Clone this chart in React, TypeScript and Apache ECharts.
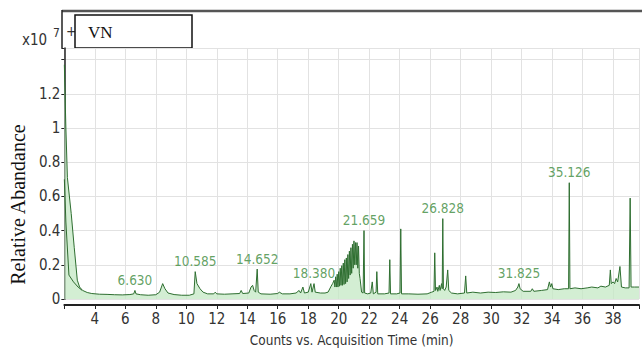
import React, { useEffect, useRef } from "react";
import * as echarts from "echarts";

// Chromatogram trace: [time (min), abundance (x10^7)]
const mainTrace: [number, number][] = [
  [2.0, 1.37], [2.1, 1.0], [2.2, 0.71], [2.45, 0.5], [2.65, 0.3], [2.85, 0.11], [3.0, 0.07],
  [3.2, 0.05], [3.5, 0.038], [3.8, 0.032], [4.3, 0.028], [4.8, 0.027], [5.3, 0.025], [5.8, 0.024],
  [6.3, 0.026], [6.55, 0.03], [6.63, 0.05], [6.7, 0.03], [7.0, 0.025], [7.5, 0.022], [8.0, 0.025],
  [8.25, 0.04], [8.45, 0.09], [8.6, 0.06], [8.8, 0.035], [9.2, 0.026], [9.7, 0.022], [10.2, 0.022],
  [10.5, 0.03], [10.585, 0.16], [10.7, 0.09], [10.9, 0.06], [11.1, 0.04], [11.4, 0.03], [11.8, 0.03],
  [11.9, 0.04], [12.0, 0.03], [12.5, 0.028], [13.0, 0.03], [13.5, 0.032], [13.6, 0.05], [13.7, 0.032],
  [14.1, 0.035], [14.25, 0.07], [14.35, 0.08], [14.45, 0.05], [14.55, 0.04], [14.652, 0.175],
  [14.72, 0.04], [14.9, 0.03], [15.5, 0.028], [16.0, 0.032], [16.1, 0.04], [16.3, 0.03], [16.8, 0.03],
  [17.2, 0.035], [17.4, 0.05], [17.5, 0.035], [17.65, 0.07], [17.75, 0.035], [18.0, 0.04],
  [18.17, 0.09], [18.25, 0.04], [18.38, 0.09], [18.46, 0.04], [18.8, 0.035], [19.1, 0.035],
  [19.3, 0.04], [19.5, 0.075], [19.6, 0.09], [19.7, 0.11], [19.75, 0.07], [19.8, 0.13], [19.85, 0.07],
  [19.9, 0.145], [19.95, 0.07], [20.0, 0.16], [20.05, 0.075], [20.1, 0.18], [20.15, 0.08],
  [20.2, 0.195], [20.25, 0.08], [20.3, 0.21], [20.35, 0.085], [20.4, 0.23], [20.45, 0.09],
  [20.5, 0.24], [20.55, 0.1], [20.6, 0.26], [20.65, 0.12], [20.7, 0.28], [20.75, 0.14], [20.8, 0.3],
  [20.85, 0.15], [20.9, 0.32], [20.95, 0.18], [21.0, 0.34], [21.05, 0.2], [21.1, 0.33], [21.15, 0.2],
  [21.2, 0.33], [21.25, 0.18], [21.3, 0.31], [21.35, 0.15], [21.4, 0.12], [21.5, 0.04], [21.6, 0.035],
  [21.659, 0.4], [21.7, 0.035], [21.9, 0.03], [22.1, 0.035], [22.2, 0.1], [22.27, 0.03], [22.45, 0.04],
  [22.5, 0.16], [22.56, 0.03], [23.0, 0.03], [23.3, 0.035], [23.35, 0.23], [23.4, 0.03], [23.8, 0.03],
  [24.02, 0.035], [24.07, 0.41], [24.12, 0.03], [24.6, 0.03], [25.2, 0.028], [25.8, 0.03],
  [26.1, 0.04], [26.25, 0.045], [26.3, 0.27], [26.35, 0.05], [26.45, 0.07], [26.5, 0.045],
  [26.6, 0.08], [26.65, 0.05], [26.75, 0.09], [26.79, 0.06], [26.828, 0.47], [26.87, 0.06],
  [26.95, 0.05], [27.05, 0.07], [27.15, 0.17], [27.22, 0.05], [27.4, 0.035], [27.8, 0.03],
  [28.25, 0.035], [28.33, 0.135], [28.4, 0.035], [28.8, 0.04], [29.3, 0.035], [29.8, 0.04],
  [30.3, 0.038], [30.8, 0.042], [31.3, 0.04], [31.6, 0.05], [31.75, 0.07], [31.825, 0.09],
  [31.9, 0.06], [32.1, 0.045], [32.6, 0.045], [32.7, 0.06], [32.8, 0.045], [33.3, 0.05],
  [33.7, 0.055], [33.82, 0.1], [33.9, 0.07], [33.98, 0.09], [34.05, 0.06], [34.4, 0.055],
  [34.8, 0.06], [35.08, 0.06], [35.126, 0.68], [35.17, 0.06], [35.5, 0.065], [35.9, 0.06],
  [36.3, 0.065], [36.6, 0.07], [37.0, 0.065], [37.2, 0.075], [37.5, 0.07], [37.75, 0.08],
  [37.82, 0.17], [37.88, 0.09], [38.0, 0.1], [38.1, 0.09], [38.2, 0.12], [38.3, 0.1], [38.45, 0.19],
  [38.55, 0.07], [38.8, 0.065], [39.05, 0.065], [39.12, 0.59], [39.18, 0.07], [39.4, 0.07],
  [39.7, 0.07],
];

// Second (inner) trace visible at the solvent front
const innerTrace: [number, number][] = [
  [2.0, 0.7], [2.1, 0.45], [2.3, 0.14], [2.6, 0.1], [2.9, 0.07], [3.17, 0.05],
];

// Labelled peaks: [retention time, peak height]
const peakLabels: [number, number][] = [
  [6.63, 0.05], [10.585, 0.16], [14.652, 0.175], [18.38, 0.09],
  [21.659, 0.4], [26.828, 0.47], [31.825, 0.09], [35.126, 0.68],
];

const yTickLabels = ["0", "0.2", "0.4", "0.6", "0.8", "1", "1.2"];

const NARROW = "'DejaVu Sans Condensed', 'Liberation Sans Narrow', sans-serif";
const SERIF = "'Liberation Serif', 'Times New Roman', serif";

export default function App() {
  const ref = useRef<HTMLDivElement>(null);
  useEffect(() => {
    if (!ref.current) return;
    const chart = echarts.init(ref.current, null, { renderer: "svg" });
    chart.setOption({
      animation: false,
      backgroundColor: "#ffffff",
      grid: { left: 62, right: 0, top: 48, bottom: 54, containLabel: false },
      xAxis: {
        type: "value",
        min: 2,
        max: 39.7,
        interval: 2,
        offset: 6,
        name: "Counts vs. Acquisition Time (min)",
        nameLocation: "middle",
        nameGap: 28,
        nameTextStyle: { fontFamily: NARROW, fontSize: 13.5, color: "#333" },
        axisLine: { onZero: false, lineStyle: { color: "#222", width: 2 } },
        axisTick: { show: true, length: 4, lineStyle: { color: "#222" } },
        axisLabel: {
          fontFamily: NARROW,
          fontSize: 15,
          color: "#333",
          margin: 6,
          formatter: (v: number) => (v === 2 || Math.abs(v % 2) > 0.001 ? "" : String(v)),
        },
        splitLine: { show: true, lineStyle: { color: "#e2e2e2", width: 1 } },
      },
      yAxis: {
        type: "value",
        min: 0,
        max: 1.468,
        interval: 0.2,
        name: "Relative Abandance",
        nameLocation: "middle",
        nameGap: 36,
        nameTextStyle: { fontFamily: SERIF, fontSize: 20, color: "#111", padding: [0, 62, 0, 0] },
        axisLine: { show: true, lineStyle: { color: "#222", width: 1.5 } },
        axisTick: { show: true, length: 3, lineStyle: { color: "#222" } },
        axisLabel: {
          fontFamily: NARROW,
          fontSize: 15,
          color: "#333",
          margin: 4,
          formatter: (v: number) => {
            const i = Math.round(v / 0.2);
            return i < yTickLabels.length ? yTickLabels[i] : "";
          },
        },
        splitLine: { show: true, lineStyle: { color: "#e2e2e2", width: 1 } },
      },
      series: [
        {
          type: "line",
          data: mainTrace,
          symbol: "none",
          lineStyle: { color: "#2e6e30", width: 1 },
          areaStyle: { color: "#c4e8c4", opacity: 0.75, origin: "start" },
          z: 2,
        },
        {
          type: "line",
          data: innerTrace,
          symbol: "none",
          lineStyle: { color: "#2f6a2f", width: 1 },
          z: 3,
        },
        {
          type: "scatter",
          data: peakLabels,
          symbolSize: 1,
          itemStyle: { color: "rgba(0,0,0,0)" },
          label: {
            show: true,
            position: "top",
            distance: 3,
            fontFamily: NARROW,
            fontSize: 13.5,
            color: "#3b8a3b",
            formatter: (p: any) => p.value[0].toFixed(3),
          },
          z: 4,
        },
      ],
      graphic: [
        { type: "line", shape: { x1: 62, y1: 11, x2: 642, y2: 11 }, style: { stroke: "#555", lineWidth: 2.5 } },
        { type: "line", shape: { x1: 62, y1: 10, x2: 62, y2: 48 }, style: { stroke: "#222", lineWidth: 1.5 } },
        { type: "text", x: 22, y: 40, style: { text: "x10", font: `15px ${NARROW}`, fill: "#333", verticalAlign: "middle" } },
        { type: "text", x: 53, y: 33, style: { text: "7", font: `12px ${NARROW}`, fill: "#333", verticalAlign: "middle" } },
        { type: "text", x: 66, y: 31, style: { text: "+", font: `14px ${NARROW}`, fill: "#333", verticalAlign: "middle" } },
        { type: "rect", shape: { x: 75, y: 15, width: 117, height: 33 }, style: { fill: "#fff", stroke: "#111", lineWidth: 1.5 } },
        { type: "text", x: 88, y: 32, style: { text: "VN", font: `17px ${SERIF}`, fill: "#111", verticalAlign: "middle" } },
      ],
    });
    return () => chart.dispose();
  }, []);
  return <div ref={ref} style={{ width: 642, height: 353, position: "absolute", left: 0, top: 0 }} />;
}
